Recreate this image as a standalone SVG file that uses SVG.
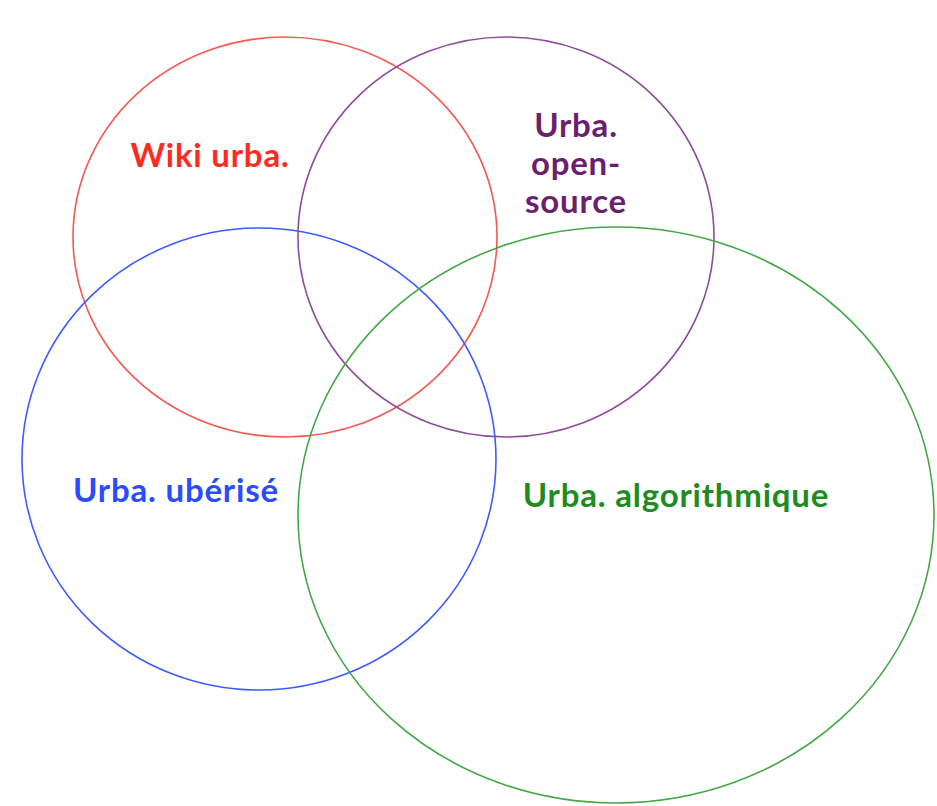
<svg xmlns="http://www.w3.org/2000/svg" width="937" height="806" viewBox="0 0 937 806">
<style>
.c{fill:none;stroke-width:1.6}
.t{font-family:"Lato","DejaVu Sans",sans-serif;font-weight:bold;font-size:33px;letter-spacing:0.8px;text-anchor:middle}
</style>
<rect width="937" height="806" fill="#ffffff"/>
<g id="red"><ellipse class="c" cx="285" cy="237" rx="212" ry="200" stroke="#f25a50"/><text class="t" x="210" y="167" fill="#ff2a22">Wiki urba.</text></g>
<g id="purple"><ellipse class="c" cx="506" cy="237" rx="208" ry="200" stroke="#8e4c9c"/><text class="t" fill="#6b1f6e"><tspan x="576" y="137">Urba.</tspan><tspan x="576" y="175">open-</tspan><tspan x="576" y="213">source</tspan></text></g>
<g id="blue"><ellipse class="c" cx="259" cy="459" rx="237" ry="231" stroke="#3d5cff"/><text class="t" x="176" y="502" fill="#2a4cff">Urba. ubérisé</text></g>
<g id="green"><ellipse class="c" cx="616" cy="515" rx="318" ry="288" stroke="#42a845"/><text class="t" x="676" y="507" fill="#1e8c22">Urba. algorithmique</text></g>
</svg>
